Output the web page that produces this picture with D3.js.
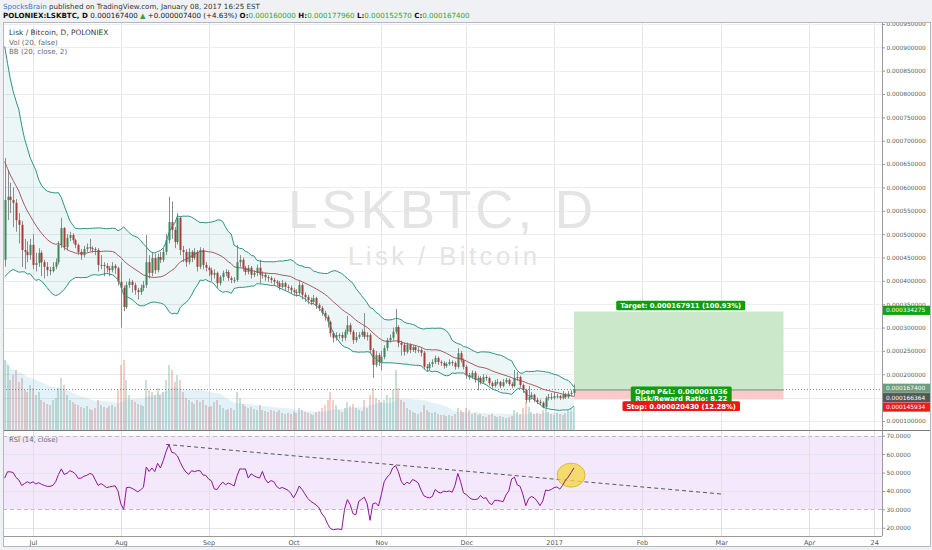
<!DOCTYPE html>
<html><head><meta charset="utf-8">
<script src="https://cdn.jsdelivr.net/npm/d3@7"></script>
<style>
html,body{margin:0;padding:0;background:#fff;}
svg{display:block;}
</style></head><body>
<svg id="c" width="932" height="550"></svg>
<script>
// ===== DATA (prices in µBTC = 1e-6 BTC) =====
const startDate = '2016-06-21';
// closes of the 19 days before the first visible candle (only used for BB warm-up)
const preCloses = [880,850,800,760,740,790,750,700,680,650,630,640,600,570,550,520,500,480,445];
const closes = [573,580,573,567,530,520,466,462,455,477,434,438,460,440,430,423,421,430,440,477,
513,472,492,498,487,477,462,455,468,472,470,468,466,434,434,432,427,423,432,427,
398,385,344,391,398,391,380,376,385,391,440,417,449,423,451,445,462,487,526,509,
483,535,466,462,440,462,449,462,430,466,434,428,423,413,417,395,408,417,419,406,
402,402,440,445,428,419,428,413,417,428,413,413,408,406,402,398,395,387,395,387,
385,380,376,374,391,370,365,359,355,363,348,342,331,323,312,288,278,284,284,278,
291,305,291,273,280,284,291,280,284,252,220,241,226,237,256,273,278,291,301,267,
263,248,263,252,258,252,252,246,216,213,222,226,235,226,224,218,222,226,224,216,
245,230,216,198,194,203,188,192,183,194,192,181,175,183,183,175,183,188,179,175,
192,194,177,166,145,151,156,145,141,139,130,149,151,149,153,153,149,156,151,158,
160,167.4];
const highs = [663,637,610,600,575,545,528,490,485,490,500,460,470,465,445,440,430,440,448,485,
535,515,500,505,502,490,480,468,475,480,490,474,472,470,455,440,438,432,440,436,
430,440,390,398,405,402,396,385,392,400,498,455,460,458,458,462,470,500,580,570,
515,545,538,475,468,470,466,470,466,472,470,440,432,428,425,420,412,422,425,423,
410,408,477,455,450,432,434,432,422,435,445,420,418,412,410,406,402,400,402,398,
392,390,385,382,400,395,375,370,364,370,366,352,346,336,327,315,292,290,288,290,
296,325,310,295,290,290,296,331,290,288,256,250,246,250,262,278,285,300,340,305,
272,268,268,266,262,262,258,256,250,222,226,232,240,238,230,228,226,232,230,228,
256,250,234,220,203,208,207,197,196,200,198,195,185,188,190,186,190,192,191,183,
209,205,197,180,169,175,162,158,150,146,142,153,158,160,162,158,156,164,160,164,
166,177.96];
const lows = [430,530,545,515,505,480,430,425,440,445,425,420,430,410,405,410,412,418,425,435,
470,465,465,485,480,470,455,445,450,462,464,460,455,420,425,410,418,410,418,415,
390,300,335,340,385,375,370,360,370,378,385,405,410,415,418,438,440,455,480,490,
470,478,455,440,430,435,440,445,420,425,425,420,410,400,405,385,390,400,410,400,
395,395,398,430,420,412,414,405,408,410,395,405,400,398,395,390,388,380,384,380,
378,372,368,366,370,360,355,350,348,350,340,335,325,315,300,280,268,272,276,270,
272,285,285,265,268,276,280,275,272,245,192,215,218,208,232,250,268,272,286,258,
240,240,244,245,248,245,246,238,210,205,208,215,222,220,218,212,214,218,218,210,
212,225,210,190,188,190,182,165,178,180,186,176,170,172,178,170,172,180,175,170,
172,186,172,160,138,140,146,140,136,134,127,128,144,145,146,148,145,146,147,148,
153,152.57];
const volumes = [700,650,500,550,600,480,520,400,380,450,420,
350,380,300,280,260,250,300,320,420,520,
450,350,300,280,260,250,230,220,240,210,
200,220,300,250,230,220,240,250,230,400,
650,700,500,350,300,280,260,250,240,500,
400,380,350,420,350,380,500,650,600,480,
550,500,380,320,300,280,260,300,280,300,
250,230,240,280,300,250,220,200,210,220,
200,380,320,260,240,220,230,210,200,250,
200,190,180,200,190,180,200,170,160,170,
160,180,170,220,200,180,170,160,150,180,
190,220,250,300,380,300,250,200,180,220,
280,240,260,220,200,190,300,220,350,420,
320,300,280,300,350,320,400,600,420,300,
280,220,200,180,170,160,180,250,200,180,
170,180,160,150,150,140,150,140,160,220,
200,180,220,200,160,170,150,160,140,130,
150,160,140,130,140,130,120,130,140,200,
180,160,220,280,230,180,160,170,160,200,
220,180,160,150,170,160,150,170,200,210,230];
const rsiValues = [47,50.4,50.4,50,47.3,46,43,44,45,44.2,45,43.8,44.5,43.6,43,42.5,42.5,43,45,49,
52,49,49.6,51,50.4,49.2,46.8,47,48,48.5,49.5,49,46,43,44,43,41.8,42.2,42.5,42.8,
40,33,30,41.8,42,41.4,40.5,39.5,40.6,42,53,50.6,52.5,50.5,55,52.5,56.5,61.5,65.2,61,
60.5,59,55.5,52.5,50.3,49,51,50.5,51,51,48.7,48.5,46.5,45.5,41.1,40.8,43.1,44.8,43.4,44.3,
43.6,42.7,48,52,51.9,52,47,49.3,48.3,47.5,47,50.6,46.4,44.4,45.6,45.1,42.5,41.3,41.9,41.2,
40.4,38.8,36.3,39,42.7,40.8,38.4,36,34.4,33.4,32.4,30.8,27.6,25.7,22.1,19.6,18.9,19.2,19.3,18.9,
30,35.3,32.5,27.6,27,34.3,35.4,36.6,33,24,33,33.5,31.8,38,45,47.5,49,52.5,53.8,50.5,
45.3,43.2,44.7,44,46.2,45.5,44.4,40.5,37.4,36.6,36.2,37,40.8,39.4,38.9,39.9,39.6,40,39.3,43,
49.5,45,39,38,36.5,35.5,35.3,35.6,37.5,36,36.3,33.6,32.5,34.9,34.9,34.5,34.2,37.8,40,46.5,
47.5,43.3,42.5,38,32,35.8,37,36.2,34.5,32,34.5,40.5,40.2,40.8,41.8,42.2,41,43,45.8,47.6,
50,52.5];
const priceTicks = [100,150,200,250,300,350,400,450,500,550,600,650,700,750,800,850,900,950];
const rsiTicks = [20,30,40,50,60,70];
const timeTicks = ['2016-07-01','2016-08-01','2016-09-01','2016-10-01','2016-11-01','2016-12-01','2017-01-01','2017-02-01','2017-03-01','2017-04-01','2017-04-24'];
const timeTickLabels = ['Jul','Aug','Sep','Oct','Nov','Dec','2017','Feb','Mar','Apr','24'];
const positionDates = ['2017-01-08','2017-03-23'];
const positionLevels = {entry:166.364, target:334.275, stop:145.934};
const rsiTrendDates = ['2016-08-17','2017-03-02'];
const rsiTrendValues = [65.3, 38.2];
const circleDate = '2017-01-07', circleRsi = 48.6;
const lastPrice = 167.4;
const headerLine1 = ['SpocksBrain',' published on TradingView.com, January 08, 2017 16:25 EST'];

// ===== SETUP =====
const FONT = "'DejaVu Sans', Verdana, sans-serif";
const svg = d3.select('#c');
const X0 = 3, X1 = 882, PY0 = 23, PY1 = 430, RY0 = 431, RY1 = 536;
const parse = d3.utcParse('%Y-%m-%d');
const start = parse(startDate);
const dates = closes.map((_, i) => d3.utcDay.offset(start, i));
const opens = closes.map((c, i) => i === 0 ? preCloses[preCloses.length - 1] : closes[i - 1]);

const x = d3.scaleUtc().domain([parse('2016-07-01'), parse('2017-04-01')]).range([33, 809]);
const y = d3.scaleLinear().domain([80.6, 952.1]).range([PY1, PY0]);
const yr = d3.scaleLinear().domain([15.5, 72.6]).range([RY1, RY0]);
const yv = d3.scaleLinear().domain([0, 1000]).range([PY1, PY1 - 100]);

// background
svg.append('rect').attr('width', 932).attr('height', 550).attr('fill', '#eff1f4');
svg.append('rect').attr('x', 3).attr('y', 22).attr('width', 927).attr('height', 525).attr('fill', '#fff');

const defs = svg.append('defs');
defs.append('clipPath').attr('id', 'cp').append('rect').attr('x', X0).attr('y', PY0).attr('width', X1 - X0).attr('height', PY1 - PY0);
defs.append('clipPath').attr('id', 'cr').append('rect').attr('x', X0).attr('y', RY0).attr('width', X1 - X0).attr('height', RY1 - RY0);
defs.append('clipPath').attr('id', 'ca').append('rect').attr('x', X1).attr('y', PY0).attr('width', 50).attr('height', RY1 - PY0);

// ===== GRID =====
const tdates = timeTicks.map(parse);
const grid = svg.append('g');
grid.selectAll('line.v').data(tdates).join('line')
  .attr('x1', d => Math.round(x(d)) + 0.5).attr('x2', d => Math.round(x(d)) + 0.5)
  .attr('y1', PY0).attr('y2', RY1).attr('stroke', '#e6e6e6');
grid.selectAll('line.h').data(priceTicks).join('line')
  .attr('x1', X0).attr('x2', X1).attr('y1', d => Math.round(y(d)) + 0.5).attr('y2', d => Math.round(y(d)) + 0.5)
  .attr('stroke', '#ececec');

// ===== WATERMARK =====
svg.append('text').attr('x', 288).attr('y', 228).attr('textLength', 305).attr('lengthAdjust', 'spacing')
  .attr('font-family', "'Liberation Sans', Arial, sans-serif").attr('font-size', 53).attr('fill', '#e4e4e4').text('LSKBTC, D');
svg.append('text').attr('x', 348).attr('y', 265).attr('textLength', 189).attr('lengthAdjust', 'spacing')
  .attr('font-family', "'Liberation Sans', Arial, sans-serif").attr('font-size', 25.6).attr('fill', '#e4e4e4').text('Lisk / Bitcoin');

// ===== PRICE PANE =====
const gp = svg.append('g').attr('clip-path', 'url(#cp)');

// volume
gp.selectAll('rect.vol').data(volumes).join('rect')
  .attr('x', (d, i) => Math.round(x(dates[i])) - 1).attr('width', 2)
  .attr('y', d => yv(d)).attr('height', d => PY1 - yv(d))
  .attr('fill', (d, i) => closes[i] >= opens[i] ? 'rgba(107,165,131,0.35)' : 'rgba(215,84,66,0.28)');
// volume MA (20)
const volMA = volumes.map((v, i) => d3.mean(volumes.slice(Math.max(0, i - 19), i + 1)));
gp.append('path').datum(volMA)
  .attr('d', d3.area().x((d, i) => x(dates[i])).y0(PY1).y1(d => yv(d)))
  .attr('fill', 'rgba(60,160,215,0.14)');

// Bollinger bands (20, close, 2)
const allC = preCloses.concat(closes);
const P = preCloses.length;
const bb = closes.map((c, i) => {
  const w = allC.slice(i + P - 19, i + P + 1);
  const m = d3.mean(w);
  const sd = Math.sqrt(d3.mean(w.map(v => (v - m) * (v - m))));
  return {m, u: m + 2 * sd, l: m - 2 * sd};
});
gp.append('path').datum(bb)
  .attr('d', d3.area().x((d, i) => x(dates[i])).y0(d => y(d.l)).y1(d => y(d.u)))
  .attr('fill', 'rgba(25,135,135,0.08)');

// current price dotted line
gp.append('line').attr('x1', X0).attr('x2', X1).attr('y1', Math.round(y(lastPrice)) + 0.5).attr('y2', Math.round(y(lastPrice)) + 0.5)
  .attr('stroke', '#8a8a8a').attr('stroke-dasharray', '1,2');

// position tool
const px0 = x(parse(positionDates[0])), px1 = x(parse(positionDates[1]));
gp.append('rect').attr('x', px0).attr('width', px1 - px0)
  .attr('y', y(positionLevels.target)).attr('height', y(positionLevels.entry) - y(positionLevels.target))
  .attr('fill', '#cbe8cb');
gp.append('rect').attr('x', px0).attr('width', px1 - px0)
  .attr('y', y(positionLevels.entry)).attr('height', y(positionLevels.stop) - y(positionLevels.entry))
  .attr('fill', '#f9caca');
gp.append('line').attr('x1', px0).attr('x2', px1).attr('y1', y(positionLevels.entry)).attr('y2', y(positionLevels.entry))
  .attr('stroke', '#7d8a7d').attr('stroke-width', 1);

// candles
const gc = gp.append('g');
gc.selectAll('line').data(closes).join('line')
  .attr('x1', (d, i) => Math.round(x(dates[i])) + 0.5).attr('x2', (d, i) => Math.round(x(dates[i])) + 0.5)
  .attr('y1', (d, i) => y(Math.max(highs[i], opens[i], d))).attr('y2', (d, i) => y(Math.min(lows[i], opens[i], d)))
  .attr('stroke', '#8c8c8e').attr('stroke-width', 1);
gc.selectAll('rect').data(closes).join('rect')
  .attr('x', (d, i) => Math.round(x(dates[i])) - 0.5).attr('width', 2)
  .attr('y', (d, i) => y(Math.max(opens[i], d)))
  .attr('height', (d, i) => Math.max(1, Math.abs(y(opens[i]) - y(d))))
  .attr('fill', (d, i) => d >= opens[i] ? '#3f875a' : '#a83c36');

// BB lines
const bline = k => d3.line().x((d, i) => x(dates[i])).y(d => y(d[k])).curve(d3.curveLinear);
gp.append('path').datum(bb).attr('d', bline('u')).attr('fill', 'none').attr('stroke', '#2a9484').attr('stroke-width', 1);
gp.append('path').datum(bb).attr('d', bline('l')).attr('fill', 'none').attr('stroke', '#2a9484').attr('stroke-width', 1);
gp.append('path').datum(bb).attr('d', bline('m')).attr('fill', 'none').attr('stroke', '#9b4a4f').attr('stroke-width', 0.9);

// position labels
function labelBox(g, cx, cy, lines, bg, fs) {
  const t = g.append('text').attr('font-family', FONT).attr('font-size', fs).attr('font-weight', 'bold').attr('fill', '#fff')
    .attr('text-anchor', 'middle');
  const lh = fs * 1.0;
  lines.forEach((s, k) => t.append('tspan').attr('x', cx).attr('y', cy + (k - (lines.length - 1) / 2) * lh + fs * 0.36).text(s));
  const bbx = t.node().getBBox();
  g.insert('rect', 'text').attr('x', cx - bbx.width / 2 - 4).attr('y', cy - (lines.length * lh) / 2 - 1.4)
    .attr('width', bbx.width + 8).attr('height', lines.length * lh + 2.8).attr('rx', 1.5).attr('fill', bg);
}
const pcx = (px0 + px1) / 2;
const targetPct = ((positionLevels.target - positionLevels.entry) / positionLevels.entry * 100).toFixed(2);
const stopPct = ((positionLevels.entry - positionLevels.stop) / positionLevels.entry * 100).toFixed(2);
const rr = ((positionLevels.target - positionLevels.entry) / (positionLevels.entry - positionLevels.stop)).toFixed(2);
labelBox(svg.append('g'), pcx + 2, y(positionLevels.target) - 6, ['Target: ' + ((positionLevels.target - positionLevels.entry) * 1e-6).toFixed(9) + ' (' + targetPct + '%)'], '#109b10', 6.8);
labelBox(svg.append('g'), pcx + 2.5, y(positionLevels.entry) + 4.8, ['Open P&L: ' + ((lastPrice - positionLevels.entry) * 1e-6).toFixed(9), 'Risk/Reward Ratio: ' + rr], '#109b10', 6.8);
labelBox(svg.append('g'), pcx + 2.5, y(positionLevels.entry) + 16.2, ['Stop: ' + ((positionLevels.entry - positionLevels.stop) * 1e-6).toFixed(9) + ' (' + stopPct + '%)'], '#f01515', 6.8);

// ===== RSI PANE =====
const gr = svg.append('g').attr('clip-path', 'url(#cr)');
gr.append('rect').attr('x', X0).attr('width', X1 - X0).attr('y', yr(70)).attr('height', yr(30) - yr(70)).attr('fill', '#f4e8fc');
gr.selectAll('line.rg').data(rsiTicks).join('line')
  .attr('x1', X0).attr('x2', X1).attr('y1', d => Math.round(yr(d)) + 0.5).attr('y2', d => Math.round(yr(d)) + 0.5)
  .attr('stroke', d => (d === 70 || d === 30) ? '#bdbdbd' : '#e8e4ec')
  .attr('stroke-dasharray', d => (d === 70 || d === 30) ? '4,3' : null);
gr.selectAll('line.v').data(tdates).join('line')
  .attr('x1', d => Math.round(x(d)) + 0.5).attr('x2', d => Math.round(x(d)) + 0.5)
  .attr('y1', RY0).attr('y2', RY1).attr('stroke', '#e2dde6');
// trend line
gr.append('line')
  .attr('x1', x(parse(rsiTrendDates[0]))).attr('y1', yr(rsiTrendValues[0]))
  .attr('x2', x(parse(rsiTrendDates[1]))).attr('y2', yr(rsiTrendValues[1]))
  .attr('stroke', '#5a5a5a').attr('stroke-width', 1).attr('stroke-dasharray', '4,3');
// highlight ellipse
gr.append('ellipse').attr('cx', x(parse(circleDate))).attr('cy', yr(circleRsi)).attr('rx', 14).attr('ry', 12)
  .attr('fill', 'rgba(245,215,60,0.75)').attr('stroke', '#d4b020').attr('stroke-width', 0.8);
gr.append('path').datum(rsiValues)
  .attr('d', d3.line().x((d, i) => x(dates[i])).y(d => yr(d)))
  .attr('fill', 'none').attr('stroke', '#8e1599').attr('stroke-width', 1);

// ===== FRAME LINES =====
svg.append('line').attr('x1', X1 + 0.5).attr('x2', X1 + 0.5).attr('y1', PY0).attr('y2', RY1).attr('stroke', '#9a9a9a');
svg.append('line').attr('x1', X0 + 0.5).attr('x2', X0 + 0.5).attr('y1', 22).attr('y2', 547).attr('stroke', '#8c8c8c');
svg.append('line').attr('x1', X0).attr('x2', 930).attr('y1', PY1 + 0.5).attr('y2', PY1 + 0.5).attr('stroke', '#7c7c7c');
svg.append('line').attr('x1', X0).attr('x2', X1).attr('y1', RY1 + 0.5).attr('y2', RY1 + 0.5).attr('stroke', '#9a9a9a');
svg.append('rect').attr('x', 3.5).attr('y', 22.5).attr('width', 927).attr('height', 524).attr('fill', 'none').attr('stroke', '#b4b8be');

// ===== AXES =====
const ga = svg.append('g').attr('clip-path', 'url(#ca)');
const pax = ga.append('g').attr('transform', `translate(${X1},0)`)
  .call(d3.axisRight(y).tickValues(priceTicks).tickFormat(v => (v * 1e-6).toFixed(9)).tickSize(3).tickPadding(1.5));
const rax = ga.append('g').attr('transform', `translate(${X1},0)`)
  .call(d3.axisRight(yr).tickValues(rsiTicks).tickFormat(v => v.toFixed(4)).tickSize(3).tickPadding(1.5));
[pax, rax].forEach(a => {
  a.select('.domain').remove();
  a.selectAll('line').attr('stroke', '#9a9a9a');
  a.selectAll('text').attr('font-family', FONT).attr('font-size', 5.9).attr('fill', '#5a5a5a');
});
const tax = svg.append('g').attr('transform', `translate(0,${RY1})`)
  .call(d3.axisBottom(x).tickValues(tdates).tickFormat((d, i) => timeTickLabels[i]).tickSize(0).tickPadding(4));
tax.select('.domain').remove();
tax.selectAll('text').attr('font-family', FONT).attr('font-size', 6.5).attr('fill', '#555');

// price labels on axis
const axLabels = [
  {v: positionLevels.target, bg: '#17a017'},
  {v: lastPrice, bg: '#6e9c80'},
  {v: positionLevels.entry, bg: '#555555'},
  {v: positionLevels.stop, bg: '#ec1c1c'}
].sort((a, b) => y(a.v) - y(b.v));
let prev = -1e9;
axLabels.forEach(l => { let cy = y(l.v) - 1.2; if (cy < prev + 9.4) cy = prev + 9.4; l.cy = cy; prev = cy; });
const gl = svg.append('g');
axLabels.forEach(l => {
  gl.append('rect').attr('x', X1 + 1).attr('y', l.cy - 4.6).attr('width', 47).attr('height', 9.2).attr('fill', l.bg);
  gl.append('text').attr('x', X1 + 4).attr('y', l.cy + 2.1).attr('font-family', FONT).attr('font-size', 5.9)
    .attr('fill', '#fff').text((l.v * 1e-6).toFixed(9));
});

// ===== HEADER =====
const h1 = svg.append('text').attr('x', 3).attr('y', 8.6).attr('font-family', FONT).attr('font-size', 7.1).attr('fill', '#333');
h1.append('tspan').attr('fill', '#2b7bc8').text(headerLine1[0]);
h1.append('tspan').text(headerLine1[1]);
const last = closes[closes.length - 1], o = opens[opens.length - 1];
const chg = last - o;
const h2 = svg.append('text').attr('x', 3).attr('y', 18.4).attr('font-family', FONT).attr('font-size', 7.1).attr('fill', '#222');
const G = '#3f9e3f';
const parts = [
  ['POLONIEX:LSKBTC, D ', '#111', 'bold'],
  [(last * 1e-6).toFixed(9) + ' ', '#222', 'normal'],
  ['\u25B2', G, 'normal'],
  [' +' + (chg * 1e-6).toFixed(9) + ' (+' + (chg / o * 100).toFixed(2) + '%) ', '#222', 'normal'],
  ['O:', '#111', 'bold'], [(o * 1e-6).toFixed(9), G, 'normal'],
  [' H:', '#111', 'bold'], [(highs[highs.length - 1] * 1e-6).toFixed(9), G, 'normal'],
  [' L:', '#111', 'bold'], [(lows[lows.length - 1] * 1e-6).toFixed(9), G, 'normal'],
  [' C:', '#111', 'bold'], [(last * 1e-6).toFixed(9), G, 'normal']
];
parts.forEach(p => h2.append('tspan').attr('fill', p[1]).attr('font-weight', p[2]).text(p[0]));

// legends
const lg = svg.append('g').attr('font-family', FONT);
lg.append('text').attr('x', 9).attr('y', 35.4).attr('font-size', 7.4).attr('fill', '#3a3a3a').text('Lisk / Bitcoin, D, POLONIEX');
lg.append('text').attr('x', 9).attr('y', 44.8).attr('font-size', 7.1).attr('fill', '#6a6a6a').text('Vol (20, false)');
lg.append('text').attr('x', 9).attr('y', 54.4).attr('font-size', 7.1).attr('fill', '#6a6a6a').text('BB (20, close, 2)');
lg.append('text').attr('x', 9).attr('y', 441.6).attr('font-size', 6.8).attr('fill', '#6a6a6a').text('RSI (14, close)');
</script>
</body></html>
